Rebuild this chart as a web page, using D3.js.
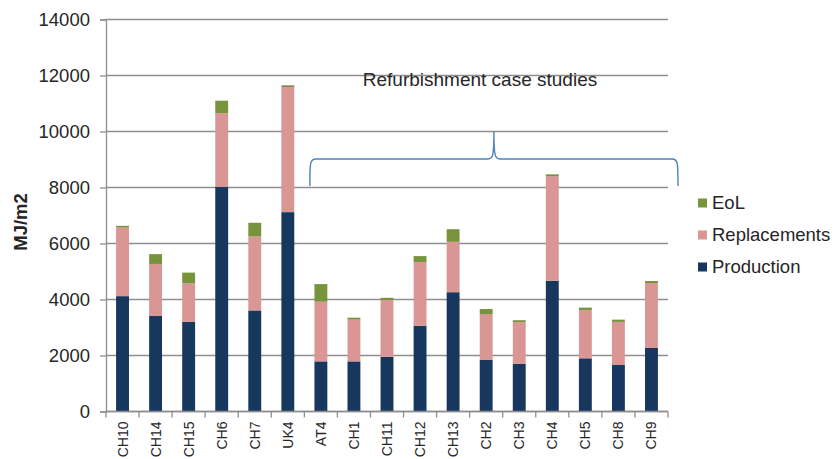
<!DOCTYPE html>
<html>
<head>
<meta charset="utf-8">
<script src="https://cdn.jsdelivr.net/npm/d3@7"></script>
<style>
  html, body { margin: 0; padding: 0; background: #fff; }
  svg { display: block; }
  text { font-family: "Liberation Sans", Arial, sans-serif; fill: #262626; }
</style>
</head>
<body>
<svg id="chart" width="837" height="459"></svg>
<script>
const categories = ["CH10","CH14","CH15","CH6","CH7","UK4","AT4","CH1","CH11","CH12","CH13","CH2","CH3","CH4","CH5","CH8","CH9"];
const production   = [4120, 3410, 3200, 8030, 3610, 7120, 1790, 1790, 1950, 3060, 4260, 1840, 1700, 4670, 1900, 1660, 2270];
const replacements = [2450, 1860, 1380, 2620, 2640, 4470, 2130, 1490, 2030, 2280, 1800, 1640, 1490, 3730, 1720, 1540, 2320];
const eol          = [  60,  350,  380,  450,  490,   60,  630,   70,   80,  210,  450,  180,   70,   70,   90,   80,   70];
const seriesNames  = ["Production", "Replacements", "EoL"];
const yTicks       = [0, 2000, 4000, 6000, 8000, 10000, 12000, 14000];
const yLabel       = "MJ/m2";
const annotation   = "Refurbishment case studies";
const refurbFirst  = "AT4";

const colors = { "Production": "#17375e", "Replacements": "#d99694", "EoL": "#77933c" };

const svg = d3.select("#chart");
const plot = { left: 106, right: 668, top: 19.5, bottom: 411.5 };

const x = d3.scaleBand().domain(categories).range([plot.left, plot.right]).paddingInner(0).paddingOuter(0);
const y = d3.scaleLinear().domain([0, 14000]).range([plot.bottom, plot.top]);
const barW = x.step() * 0.39;

// gridlines
svg.append("g").selectAll("line").data(yTicks).join("line")
  .attr("x1", plot.left).attr("x2", plot.right)
  .attr("y1", d => y(d)).attr("y2", d => y(d))
  .attr("stroke", "#8e8e8e").attr("stroke-width", 1.3);

// y axis
const yAxis = svg.append("g").attr("transform", `translate(${plot.left},0)`)
  .call(d3.axisLeft(y).tickValues(yTicks).tickSize(6).tickPadding(10).tickFormat(d3.format("d")));
yAxis.select(".domain").attr("stroke", "#8e8e8e").attr("stroke-width", 1.3);
yAxis.selectAll(".tick line").attr("stroke", "#8e8e8e").attr("stroke-width", 1.3);
yAxis.selectAll(".tick text").attr("font-size", 18.5).attr("fill", "#262626")
  .style("font-family", '"Liberation Sans", Arial, sans-serif');

// stacked data
const rows = categories.map((c, i) => ({ cat: c, Production: production[i], Replacements: replacements[i], EoL: eol[i] }));
const stack = d3.stack().keys(seriesNames)(rows);

svg.append("g").selectAll("g").data(stack).join("g")
  .attr("fill", d => colors[d.key])
  .selectAll("rect").data(d => d).join("rect")
  .attr("x", d => x(d.data.cat) + (x.step() - barW) / 2)
  .attr("width", barW)
  .attr("y", d => y(d[1]))
  .attr("height", d => y(d[0]) - y(d[1]));

// x axis
const xAxisG = svg.append("g").attr("transform", `translate(0,${plot.bottom})`);
xAxisG.append("line").attr("x1", plot.left).attr("x2", plot.right)
  .attr("stroke", "#8e8e8e").attr("stroke-width", 1.3);
const bounds = categories.map(c => x(c)).concat([plot.right]);
xAxisG.selectAll("line.tk").data(bounds).join("line").attr("class", "tk")
  .attr("x1", d => d).attr("x2", d => d).attr("y1", 0).attr("y2", 6)
  .attr("stroke", "#8e8e8e").attr("stroke-width", 1.3);
xAxisG.selectAll("text").data(categories).join("text")
  .attr("transform", d => `translate(${x(d) + x.step() / 2 + 5},10) rotate(-90)`)
  .attr("text-anchor", "end")
  .attr("font-size", 14)
  .text(d => d);

// y label
svg.append("text")
  .attr("transform", "translate(27,222) rotate(-90)")
  .attr("text-anchor", "middle")
  .attr("font-size", 18.5).attr("font-weight", "bold")
  .text(yLabel);

// annotation brace
const bx0 = x(refurbFirst) + 5.5, bx1 = plot.right + 10;
const bmid = (bx0 + bx1) / 2;
const byBot = 186, byMid = 159, byTip = 131.5, r = 6;
const brace = d3.path();
brace.moveTo(bx0, byBot);
brace.bezierCurveTo(bx0, byMid + 4, bx0, byMid, bx0 + r, byMid);
brace.lineTo(bmid - r, byMid);
brace.bezierCurveTo(bmid - 1, byMid, bmid, byMid - 3, bmid, byTip);
brace.bezierCurveTo(bmid, byMid - 3, bmid + 1, byMid, bmid + r, byMid);
brace.lineTo(bx1 - r, byMid);
brace.bezierCurveTo(bx1, byMid, bx1, byMid + 4, bx1, byBot);
svg.append("path").attr("d", brace.toString())
  .attr("fill", "none").attr("stroke", "#4f81bd").attr("stroke-width", 1.4);

svg.append("text").attr("x", 480).attr("y", 86)
  .attr("text-anchor", "middle").attr("font-size", 19)
  .text(annotation);

// legend
const legendItems = ["EoL", "Replacements", "Production"];
const lg = svg.append("g").selectAll("g").data(legendItems).join("g")
  .attr("transform", (d, i) => `translate(698,${203 + i * 32})`);
lg.append("rect").attr("x", 0).attr("y", -4.5).attr("width", 9).attr("height", 9)
  .attr("fill", d => colors[d]);
lg.append("text").attr("x", 14).attr("y", 0).attr("dy", "0.35em")
  .attr("font-size", 18.5).text(d => d);
</script>
</body>
</html>
